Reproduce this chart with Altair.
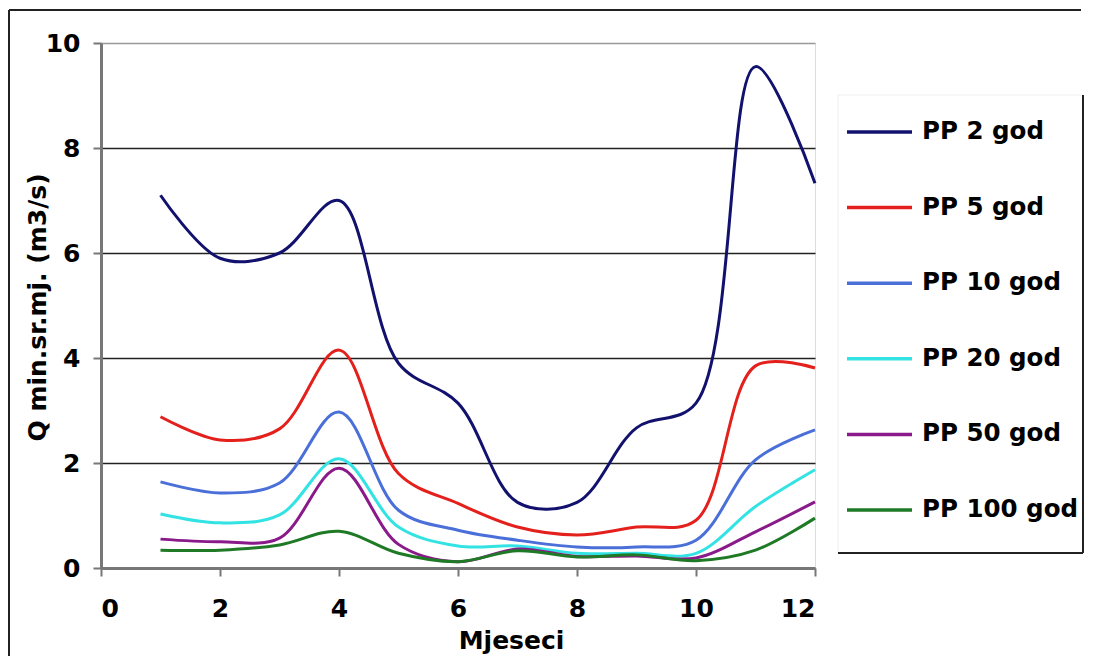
import altair as alt
import pandas as pd

months = list(range(1, 13))
series_names = ["PP 2 god", "PP 5 god", "PP 10 god", "PP 20 god", "PP 50 god", "PP 100 god"]
series_colors = ["#12126e", "#e3201c", "#4a6fd8", "#33e3e3", "#8a1a8a", "#1f7a26"]

pp2 = [7.10, 5.90, 6.00, 7.00, 3.90, 3.14, 1.25, 1.25, 2.67, 3.14, 9.55, 7.33]
pp5 = [2.88, 2.44, 2.65, 4.15, 1.80, 1.23, 0.78, 0.63, 0.78, 0.91, 3.85, 3.81]
pp10 = [1.64, 1.43, 1.62, 2.97, 1.10, 0.72, 0.53, 0.40, 0.40, 0.53, 2.06, 2.63]
pp20 = [1.03, 0.86, 1.01, 2.08, 0.78, 0.42, 0.42, 0.28, 0.28, 0.28, 1.17, 1.87]
pp50 = [0.55, 0.50, 0.57, 1.90, 0.45, 0.12, 0.36, 0.22, 0.23, 0.19, 0.69, 1.26]
pp100 = [0.34, 0.34, 0.44, 0.70, 0.28, 0.12, 0.33, 0.21, 0.25, 0.14, 0.34, 0.95]

x_ticks = [0, 2, 4, 6, 8, 10, 12]
y_ticks = [0, 2, 4, 6, 8, 10]

FONT = "DejaVu Sans"

all_values = [pp2, pp5, pp10, pp20, pp50, pp100]
rows = []
for name, vals in zip(series_names, all_values):
    for m, v in zip(months, vals):
        rows.append({"Mjesec": m, "Q": v, "serija": name})
df = pd.DataFrame(rows)
legend_df = pd.DataFrame({"serija": series_names})
one = pd.DataFrame({"k": [0]})

color_scale = alt.Scale(domain=series_names, range=series_colors)

lines = alt.Chart(df).mark_line(strokeWidth=3, interpolate="catmull-rom").encode(
    x=alt.X("Mjesec:Q", scale=alt.Scale(domain=[0, 12], nice=False),
            axis=alt.Axis(values=x_ticks, title="Mjeseci", grid=False,
                          labelFont=FONT, labelFontSize=25, labelFontWeight="bold",
                          labelColor="black", labelPadding=20,
                          tickColor="#777", tickSize=8, tickWidth=2,
                          domainColor="#777", domainWidth=3,
                          titleFont=FONT, titleFontSize=25, titleFontWeight="bold",
                          titleColor="black", titleX=410, titleY=80,
                          titleBaseline="alphabetic", titleAlign="center")),
    y=alt.Y("Q:Q", scale=alt.Scale(domain=[0, 10], nice=False),
            axis=alt.Axis(values=y_ticks, title="Q min.sr.mj. (m3/s)",
                          grid=True,
                          gridColor={"condition": {"test": "datum.value >= 10 || datum.value <= 0",
                                                   "value": "#999999"},
                                     "value": "#222222"},
                          gridWidth=1.5,
                          labelFont=FONT, labelFontSize=25, labelFontWeight="bold",
                          labelColor="black", labelPadding=13,
                          tickColor="#777", tickSize=8, tickWidth=2,
                          domainColor="#777", domainWidth=3,
                          titleFont=FONT, titleFontSize=25, titleFontWeight="bold",
                          titleColor="black", titleAngle=-90, titleX=-56, titleY=264,
                          titleBaseline="alphabetic", titleAlign="center")),
    color=alt.Color("serija:N", scale=color_scale, legend=None),
    order=alt.Order("Mjesec:Q"),
)

leg_y = alt.Y("serija:N", sort=series_names, axis=None,
              scale=alt.Scale(type="point", domain=series_names, range=[89, 467], padding=0))

legend_lines = alt.Chart(legend_df).mark_rule(strokeWidth=3.5).encode(
    x=alt.value(746), x2=alt.value(811), y=leg_y,
    color=alt.Color("serija:N", scale=color_scale, legend=None),
)
legend_text = alt.Chart(legend_df).mark_text(
    align="left", baseline="middle", font=FONT, fontSize=24.5, fontWeight="bold", color="black"
).encode(x=alt.value(821), y=leg_y, text="serija:N")

legend_right = alt.Chart(one).mark_rule(color="#222", strokeWidth=2).encode(
    x=alt.value(982), y=alt.value(52), y2=alt.value(510))
legend_bottom = alt.Chart(one).mark_rule(color="#222", strokeWidth=2).encode(
    x=alt.value(737), x2=alt.value(982), y=alt.value(510))
legend_left = alt.Chart(one).mark_rule(color="#eeeeee", strokeWidth=1).encode(
    x=alt.value(737), y=alt.value(52), y2=alt.value(510))
legend_top = alt.Chart(one).mark_rule(color="#eeeeee", strokeWidth=1).encode(
    x=alt.value(737), x2=alt.value(982), y=alt.value(52))

outer_top = alt.Chart(one).mark_rule(color="#222", strokeWidth=2).encode(
    x=alt.value(-92), x2=alt.value(980), y=alt.value(-33))
outer_left = alt.Chart(one).mark_rule(color="#222", strokeWidth=2).encode(
    x=alt.value(-92), y=alt.value(-33), y2=alt.value(640))

chart = alt.layer(
    outer_top, outer_left, lines, legend_left, legend_top, legend_right, legend_bottom,
    legend_lines, legend_text
).resolve_scale(y="independent").properties(
    width=714, height=525,
    padding={"left": 93, "top": 35, "right": 270, "bottom": 88},
    autosize=alt.AutoSizeParams(type="none"),
).configure_view(stroke="#999999", strokeWidth=1.5).configure(background="white")

chart.save("out.html", embed_options={"renderer": "svg", "actions": False})
